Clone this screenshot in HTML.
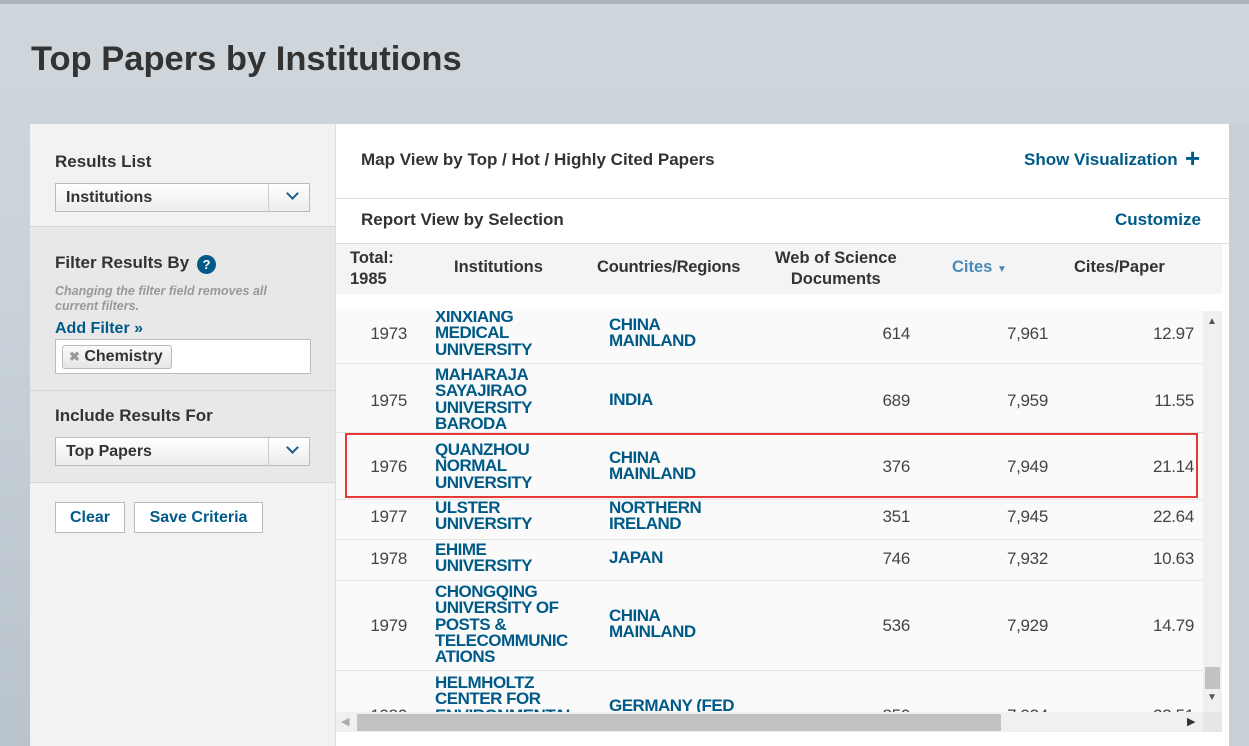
<!DOCTYPE html>
<html style="width:1249px;height:746px;overflow:hidden"><head><style>
*{margin:0;padding:0;box-sizing:border-box}
body{width:1249px;height:746px;overflow:hidden;position:relative;font-family:"Liberation Sans",sans-serif;background:linear-gradient(#cfd7dd,#c9d2d9 40%,#b9c3cb);}
.a{position:absolute}
.t{position:absolute;white-space:nowrap}
.b{font-weight:bold}
.blue{color:#005a87}
.inst{position:absolute;left:435px;font-weight:bold;color:#005a87;font-size:17px;line-height:16.3px;letter-spacing:-0.5px}
.ctry{position:absolute;left:609px;font-weight:bold;color:#005a87;font-size:17px;line-height:16.3px;letter-spacing:-0.5px}
.num{position:absolute;font-size:17px;color:#444;text-align:right;width:120px;letter-spacing:-0.3px}
.row{position:absolute;left:336px;width:867px;background:#fafafa;border-bottom:1px solid #e6e6e6}
.sel{position:absolute;left:55px;width:255px;height:29px;border:1px solid #bbb;background:linear-gradient(#fff,#ececec);font-size:16px;font-weight:bold;color:#333;padding:5px 0 0 10px}
.sel:after{content:"";position:absolute;right:0;top:0;width:40px;height:27px;border-left:1px solid #ccc}
.chev{position:absolute;right:12px;top:5px;width:9px;height:9px;border-right:2px solid #1a5d8a;border-bottom:2px solid #1a5d8a;transform:rotate(45deg);z-index:2}
.btn{position:absolute;top:502px;height:31px;border:1px solid #bbb;background:#fff;font-size:16px;font-weight:bold;color:#005a87;text-align:center;padding-top:6px}
</style></head><body>
<div class="a" style="left:0;top:0;width:1249px;height:4px;background:#a9b4bc"></div>
<div class="t b" style="left:31px;top:40px;font-size:34.5px;color:#333">Top Papers by Institutions</div>

<div class="a" style="left:30px;top:124px;width:306px;height:622px;background:#f2f2f2;border-right:1px solid #ddd"></div>
<div class="a" style="left:30px;top:226px;width:305px;height:165px;background:#e8e8e8;border-top:1px solid #d6d6d6;border-bottom:1px solid #d6d6d6"></div>
<div class="a" style="left:30px;top:391px;width:305px;height:92px;background:#e8e8e8;border-bottom:1px solid #d6d6d6"></div>
<div class="t b" style="left:55px;top:152px;font-size:17px;color:#333">Results List</div>
<div class="sel" style="top:183px">Institutions<div class="chev"></div></div>
<div class="t b" style="left:55px;top:253px;font-size:17px;color:#333">Filter Results By</div>
<div class="a" style="left:197px;top:255px;width:19px;height:19px;border-radius:50%;background:#005a87;color:#fff;font-size:13px;font-weight:bold;text-align:center;line-height:19px">?</div>
<div class="t" style="left:55px;top:284px;font-size:12.5px;line-height:15px;color:#999;font-style:italic;font-weight:bold">Changing the filter field removes all<br>current filters.</div>
<div class="t b blue" style="left:55px;top:320px;font-size:16px">Add Filter »</div>
<div class="a" style="left:55px;top:339px;width:256px;height:35px;border:1px solid #bbb;background:#fff"></div>
<div class="a" style="left:62px;top:345px;width:110px;height:24px;border:1px solid #bbb;border-radius:3px;background:linear-gradient(#fafafa,#e6e6e6);font-size:16px;font-weight:bold;color:#333;padding:2px 0 0 6px"><span style="color:#999;font-size:13px">✖</span> Chemistry</div>
<div class="t b" style="left:55px;top:406px;font-size:17px;color:#333">Include Results For</div>
<div class="sel" style="top:437px">Top Papers<div class="chev"></div></div>
<div class="btn" style="left:55px;width:70px">Clear</div>
<div class="btn" style="left:134px;width:129px">Save Criteria</div>

<div class="a" style="left:336px;top:124px;width:893px;height:622px;background:#fff"></div>
<div class="a" style="left:1229px;top:124px;width:20px;height:622px;background:#c8d0d6"></div>
<div class="t b" style="left:361px;top:150px;font-size:17px;color:#333">Map View by Top / Hot / Highly Cited Papers</div>
<div class="t b blue" style="left:1024px;top:150px;font-size:17px">Show Visualization</div>
<div class="t b blue" style="left:1185px;top:143px;font-size:26px">+</div>
<div class="a" style="left:336px;top:198px;width:893px;height:1px;background:#ddd"></div>
<div class="t b" style="left:361px;top:210px;font-size:17px;color:#333">Report View by Selection</div>
<div class="t b blue" style="left:1115px;top:210px;font-size:17px">Customize</div>
<div class="a" style="left:336px;top:243px;width:893px;height:1px;background:#ddd"></div>
<div class="a" style="left:336px;top:244px;width:886px;height:50px;background:#f4f4f4"></div>
<div class="t b" style="left:350px;top:248px;font-size:16.5px;line-height:21px;color:#333">Total:<br>1985</div>
<div class="t b" style="left:454px;top:258px;font-size:16.5px;color:#333">Institutions</div>
<div class="t b" style="left:597px;top:258px;font-size:16.5px;color:#333;letter-spacing:-0.2px">Countries/Regions</div>
<div class="t b" style="left:775px;top:248px;font-size:16.5px;line-height:21px;color:#333;text-align:center">Web of Science<br>Documents</div>
<div class="t b" style="left:952px;top:258px;font-size:16.5px;color:#4a8ab8">Cites <span style="font-size:10px">▼</span></div>
<div class="t b" style="left:1074px;top:258px;font-size:16.5px;color:#333">Cites/Paper</div>

<div class="row" style="top:311px;height:53px"></div>
<div class="row" style="top:364px;height:69px"></div>
<div class="row" style="top:433px;height:67px"></div>
<div class="row" style="top:500px;height:40px"></div>
<div class="row" style="top:540px;height:41px"></div>
<div class="row" style="top:581px;height:90px"></div>
<div class="row" style="top:671px;height:41px;border:none"></div>

<div style="position:absolute;left:0;top:311px;width:1203px;height:401px;overflow:hidden">
<div style="position:absolute;left:0;top:-311px;width:1203px;height:1100px">
<div class="num" style="left:287px;top:324px">1973</div>
<div class="inst" style="top:309px">XINXIANG<br>MEDICAL<br>UNIVERSITY</div>
<div class="ctry" style="top:317px">CHINA<br>MAINLAND</div>
<div class="num" style="left:790px;top:324px">614</div>
<div class="num" style="left:928px;top:324px">7,961</div>
<div class="num" style="left:1074px;top:324px">12.97</div>

<div class="num" style="left:287px;top:391px">1975</div>
<div class="inst" style="top:367px">MAHARAJA<br>SAYAJIRAO<br>UNIVERSITY<br>BARODA</div>
<div class="ctry" style="top:392px">INDIA</div>
<div class="num" style="left:790px;top:391px">689</div>
<div class="num" style="left:928px;top:391px">7,959</div>
<div class="num" style="left:1074px;top:391px">11.55</div>

<div class="num" style="left:287px;top:457px">1976</div>
<div class="inst" style="top:442px">QUANZHOU<br>NORMAL<br>UNIVERSITY</div>
<div class="ctry" style="top:450px">CHINA<br>MAINLAND</div>
<div class="num" style="left:790px;top:457px">376</div>
<div class="num" style="left:928px;top:457px">7,949</div>
<div class="num" style="left:1074px;top:457px">21.14</div>

<div class="num" style="left:287px;top:507px">1977</div>
<div class="inst" style="top:500px">ULSTER<br>UNIVERSITY</div>
<div class="ctry" style="top:500px">NORTHERN<br>IRELAND</div>
<div class="num" style="left:790px;top:507px">351</div>
<div class="num" style="left:928px;top:507px">7,945</div>
<div class="num" style="left:1074px;top:507px">22.64</div>

<div class="num" style="left:287px;top:549px">1978</div>
<div class="inst" style="top:542px">EHIME<br>UNIVERSITY</div>
<div class="ctry" style="top:550px">JAPAN</div>
<div class="num" style="left:790px;top:549px">746</div>
<div class="num" style="left:928px;top:549px">7,932</div>
<div class="num" style="left:1074px;top:549px">10.63</div>

<div class="num" style="left:287px;top:616px">1979</div>
<div class="inst" style="top:584px">CHONGQING<br>UNIVERSITY OF<br>POSTS &amp;<br>TELECOMMUNIC<br>ATIONS</div>
<div class="ctry" style="top:608px">CHINA<br>MAINLAND</div>
<div class="num" style="left:790px;top:616px">536</div>
<div class="num" style="left:928px;top:616px">7,929</div>
<div class="num" style="left:1074px;top:616px">14.79</div>

<div class="num" style="left:287px;top:706px">1980</div>
<div class="inst" style="top:675px">HELMHOLTZ<br>CENTER FOR<br>ENVIRONMENTAL</div>
<div class="ctry" style="top:698px">GERMANY (FED</div>
<div class="num" style="left:790px;top:706px">850</div>
<div class="num" style="left:928px;top:706px">7,924</div>
<div class="num" style="left:1074px;top:706px">22.51</div>
</div></div>

<div class="a" style="left:345px;top:433px;width:853px;height:65px;border:2px solid #e53935"></div>

<div class="a" style="left:1203px;top:311px;width:19px;height:401px;background:#f0f0f0"></div>
<div class="t" style="left:1207px;top:316px;font-size:10px;color:#555">▲</div>
<div class="a" style="left:1205px;top:667px;width:15px;height:22px;background:#c2c2c2"></div>
<div class="t" style="left:1207px;top:692px;font-size:10px;color:#555">▼</div>
<div class="a" style="left:336px;top:712px;width:867px;height:20px;background:#f0f0f0"></div>
<div class="a" style="left:357px;top:714px;width:644px;height:17px;background:#c2c2c2"></div>
<div class="t" style="left:341px;top:715px;font-size:11px;color:#aaa">◀</div>
<div class="t" style="left:1187px;top:715px;font-size:11px;color:#333">▶</div>
<div class="a" style="left:1203px;top:712px;width:19px;height:20px;background:#e6e6e6"></div>
</body></html>
